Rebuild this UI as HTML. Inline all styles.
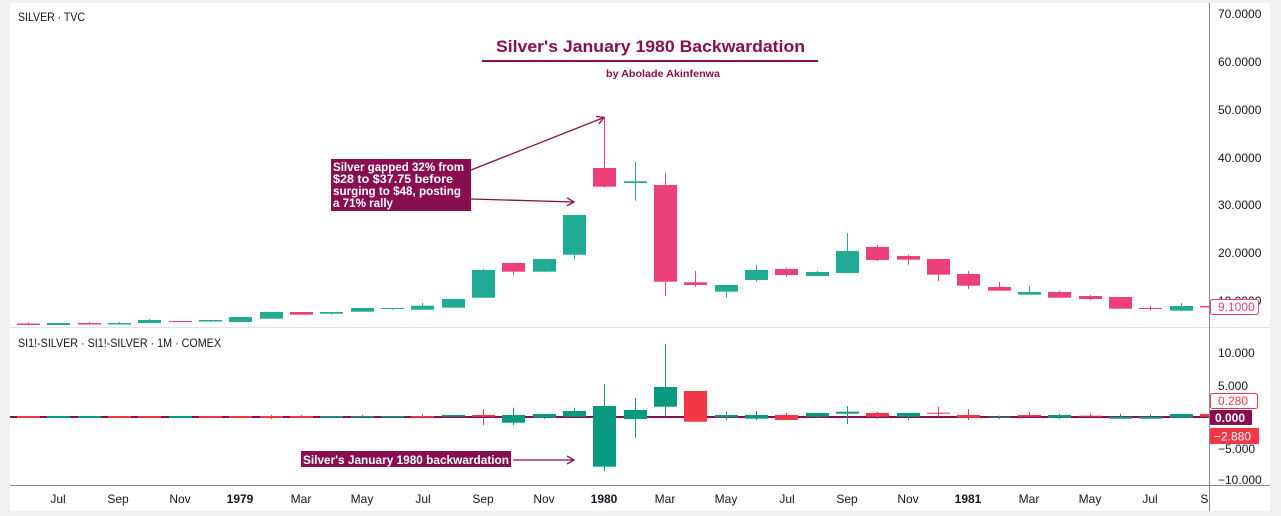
<!DOCTYPE html>
<html><head><meta charset="utf-8"><style>
html,body{margin:0;padding:0;background:#f0f0f0;}
svg{display:block;}
text{font-family:"Liberation Sans",sans-serif;}
</style></head><body>
<svg width="1281" height="516" viewBox="0 0 1281 516" xmlns="http://www.w3.org/2000/svg">
<defs>
<clipPath id="cu"><rect x="10" y="3" width="1199" height="324"/></clipPath>
<clipPath id="cl"><rect x="10" y="328" width="1199" height="157"/></clipPath>
<clipPath id="cx"><rect x="10" y="486" width="1199" height="25"/></clipPath>
<marker id="ah" markerWidth="10" markerHeight="10" refX="8" refY="5" orient="auto" markerUnits="userSpaceOnUse">
<path d="M1,1 L8,5 L1,9" fill="none" stroke="#880e4f" stroke-width="1.3"/>
</marker>
</defs>
<rect x="0" y="0" width="1281" height="516" fill="#f0f0f0"/>
<rect x="10" y="3" width="1260" height="508" fill="#ffffff"/>

<!-- separators -->
<rect x="10" y="327" width="1260" height="1" fill="#e0e3eb"/>
<rect x="10" y="485" width="1260" height="1" fill="#8c8c8c"/>
<rect x="1209" y="3" width="1" height="508" fill="#8c8c8c"/>

<!-- upper candles -->
<g clip-path="url(#cu)">
<g fill="#22ab94">
<rect x="47" y="323" width="23" height="2"/>
<rect x="108" y="323" width="23" height="1.5"/><rect x="119" y="322" width="1" height="2.5"/>
<rect x="138" y="320" width="23" height="3"/><rect x="149" y="319" width="1" height="4"/>
<rect x="199" y="320" width="23" height="1.5"/><rect x="210" y="320" width="1" height="2"/>
<rect x="229" y="317" width="23" height="5"/>
<rect x="260" y="312" width="23" height="6.7"/>
<rect x="320" y="312" width="23" height="1.7"/><rect x="331" y="312" width="1" height="2.7"/>
<rect x="351" y="308" width="23" height="3.7"/>
<rect x="381" y="308" width="23" height="1"/><rect x="392" y="308" width="1" height="1.7"/>
<rect x="411" y="305.7" width="23" height="4"/><rect x="422" y="303" width="1" height="6.7"/>
<rect x="442" y="299" width="23" height="8.7"/>
<rect x="472" y="270" width="23" height="27.7"/><rect x="483" y="269" width="1" height="28.7"/>
<rect x="533" y="259" width="23" height="12.7"/><rect x="544" y="259" width="1" height="13"/>
<rect x="563" y="215" width="23" height="39.7"/><rect x="574" y="215" width="1" height="44"/>
<rect x="624" y="181.3" width="23" height="1.7"/><rect x="635" y="162" width="1" height="38.7"/>
<rect x="715" y="285" width="23" height="6.7"/><rect x="726" y="285" width="1" height="12.7"/>
<rect x="745" y="270" width="23" height="10"/><rect x="756" y="265" width="1" height="16.7"/>
<rect x="806" y="272" width="23" height="4"/><rect x="817" y="271" width="1" height="5"/>
<rect x="836" y="251" width="23" height="22"/><rect x="847" y="233" width="1" height="40"/>
<rect x="1018" y="292" width="23" height="2.7"/><rect x="1029" y="286" width="1" height="8.7"/>
<rect x="1170" y="306" width="23" height="4.7"/><rect x="1181" y="303" width="1" height="7.7"/>
</g>
<g fill="#ec407a">
<rect x="17" y="323.5" width="23" height="1.5"/><rect x="28" y="322.5" width="1" height="2.5"/>
<rect x="78" y="323" width="23" height="1.5"/><rect x="89" y="322" width="1" height="2.5"/>
<rect x="169" y="321" width="23" height="1"/>
<rect x="290" y="312" width="23" height="2.7"/>
<rect x="502" y="263" width="23" height="8.7"/><rect x="513" y="263" width="1" height="12"/>
<rect x="593" y="168" width="23" height="18.7"/><rect x="604" y="117" width="1" height="70.7"/>
<rect x="654" y="185" width="23" height="96.7"/><rect x="665" y="173" width="1" height="123"/>
<rect x="684" y="282.3" width="23" height="2.7"/><rect x="695" y="271" width="1" height="15.7"/>
<rect x="775" y="269" width="23" height="6"/><rect x="786" y="267.7" width="1" height="9"/>
<rect x="866" y="247" width="23" height="13"/><rect x="877" y="245" width="1" height="16"/>
<rect x="897" y="256" width="23" height="3.7"/><rect x="908" y="254.7" width="1" height="10"/>
<rect x="927" y="259" width="23" height="15.7"/><rect x="938" y="259" width="1" height="22"/>
<rect x="957" y="274" width="23" height="11.7"/><rect x="968" y="271" width="1" height="18"/>
<rect x="988" y="287" width="23" height="3.7"/><rect x="999" y="282" width="1" height="8.7"/>
<rect x="1048" y="292" width="23" height="5.7"/><rect x="1059" y="290.7" width="1" height="7"/>
<rect x="1079" y="296" width="23" height="3"/><rect x="1090" y="295" width="1" height="5"/>
<rect x="1109" y="297" width="23" height="11.7"/>
<rect x="1139" y="308" width="23" height="1"/><rect x="1150" y="306" width="1" height="4"/>
<rect x="1200" y="306" width="23" height="1.5"/>
</g>
</g>

<!-- lower pane -->
<g clip-path="url(#cl)">
<rect x="10" y="416" width="1199" height="2" fill="#880e4f"/>
<g fill="#089981">
<rect x="47" y="416" width="23" height="2"/>
<rect x="78" y="416" width="23" height="2"/>
<rect x="169" y="416" width="23" height="2"/>
<rect x="320" y="416" width="23" height="1.7"/>
<rect x="351" y="416" width="23" height="1.5"/><rect x="362" y="415" width="1" height="3"/>
<rect x="381" y="416" width="23" height="1.5"/>
<rect x="442" y="415" width="23" height="1.7"/>
<rect x="502" y="415" width="23" height="7.7"/><rect x="513" y="407.7" width="1" height="17.3"/>
<rect x="533" y="414" width="23" height="3.7"/><rect x="544" y="414" width="1" height="5"/>
<rect x="563" y="411" width="23" height="5.7"/><rect x="574" y="407.7" width="1" height="9"/>
<rect x="593" y="406" width="23" height="60.7"/><rect x="604" y="384" width="1" height="87"/>
<rect x="624" y="410" width="23" height="9"/><rect x="635" y="398" width="1" height="39.7"/>
<rect x="654" y="387" width="23" height="19.7"/><rect x="665" y="344" width="1" height="72.7"/>
<rect x="715" y="415" width="23" height="2.3"/><rect x="726" y="411.7" width="1" height="8.3"/>
<rect x="745" y="415" width="23" height="3.7"/><rect x="756" y="411" width="1" height="9"/>
<rect x="806" y="413" width="23" height="3.7"/><rect x="817" y="413" width="1" height="5"/>
<rect x="836" y="411.7" width="23" height="2"/><rect x="847" y="406" width="1" height="18"/>
<rect x="897" y="413" width="23" height="3.7"/><rect x="908" y="413" width="1" height="7"/>
<rect x="988" y="416.7" width="23" height="1"/><rect x="999" y="415.7" width="1" height="3.3"/>
<rect x="1048" y="415" width="23" height="2.7"/><rect x="1059" y="413.7" width="1" height="5.3"/>
<rect x="1109" y="416.7" width="23" height="2"/><rect x="1120" y="413.7" width="1" height="5"/>
<rect x="1139" y="416.7" width="23" height="2"/><rect x="1150" y="414" width="1" height="4.7"/>
<rect x="1170" y="414" width="23" height="3.7"/>
</g>
<g fill="#f23645">
<rect x="17" y="416" width="23" height="2"/>
<rect x="108" y="416" width="23" height="2"/>
<rect x="138" y="416" width="23" height="2"/>
<rect x="199" y="416" width="23" height="2"/>
<rect x="229" y="416" width="23" height="2"/>
<rect x="260" y="416" width="23" height="2"/><rect x="271" y="415" width="1" height="4"/>
<rect x="290" y="416" width="23" height="2"/><rect x="301" y="415" width="1" height="3"/>
<rect x="411" y="416" width="23" height="1.7"/><rect x="422" y="414" width="1" height="4.7"/>
<rect x="472" y="415" width="23" height="1.7"/><rect x="483" y="409" width="1" height="16"/>
<rect x="684" y="391" width="23" height="30.7"/>
<rect x="775" y="415" width="23" height="5"/><rect x="786" y="413" width="1" height="7"/>
<rect x="866" y="413" width="23" height="3.7"/><rect x="877" y="412" width="1" height="6.7"/>
<rect x="927" y="412.7" width="23" height="1"/><rect x="938" y="407" width="1" height="9.7"/>
<rect x="957" y="415" width="23" height="2.7"/><rect x="968" y="409" width="1" height="11"/>
<rect x="1018" y="415" width="23" height="1.7"/><rect x="1029" y="412" width="1" height="5.7"/>
<rect x="1079" y="415.7" width="23" height="1"/><rect x="1090" y="413.7" width="1" height="3"/>
<rect x="1200" y="414" width="23" height="2.7"/>
</g>
</g>

<!-- legends -->
<text x="18" y="21" font-size="12" fill="#131722" textLength="67" lengthAdjust="spacingAndGlyphs">SILVER · TVC</text>
<text x="18" y="347" font-size="12" fill="#131722" textLength="203" lengthAdjust="spacingAndGlyphs">SI1!-SILVER · SI1!-SILVER · 1M · COMEX</text>

<!-- title -->
<text x="650.5" y="52" font-size="17" font-weight="bold" fill="#880e4f" text-anchor="middle" textLength="309" lengthAdjust="spacingAndGlyphs">Silver's January 1980 Backwardation</text>
<rect x="482" y="60" width="336" height="2" fill="#880e4f"/>
<text x="663" y="77" font-size="10.5" font-weight="bold" fill="#880e4f" text-anchor="middle" textLength="114" lengthAdjust="spacingAndGlyphs">by Abolade Akinfenwa</text>

<!-- annotation 1 -->
<rect x="331" y="159" width="140" height="52" fill="#880e4f"/>
<g font-size="12" font-weight="bold" fill="#ffffff">
<text x="333" y="171" textLength="131" lengthAdjust="spacingAndGlyphs">Silver gapped 32% from</text>
<text x="333" y="183" textLength="120" lengthAdjust="spacingAndGlyphs">$28 to $37.75 before</text>
<text x="333" y="195" textLength="128" lengthAdjust="spacingAndGlyphs">surging to $48, posting</text>
<text x="333" y="207" textLength="60" lengthAdjust="spacingAndGlyphs">a 71% rally</text>
</g>
<line x1="471" y1="170" x2="604" y2="117.5" stroke="#880e4f" stroke-width="1.3" marker-end="url(#ah)"/>
<line x1="471" y1="199" x2="574" y2="202" stroke="#880e4f" stroke-width="1.3" marker-end="url(#ah)"/>

<!-- annotation 2 -->
<rect x="301" y="451" width="210" height="16" fill="#880e4f"/>
<text x="303" y="464" font-size="12" font-weight="bold" fill="#ffffff" textLength="206" lengthAdjust="spacingAndGlyphs">Silver's January 1980 backwardation</text>
<line x1="513" y1="460" x2="574" y2="460" stroke="#880e4f" stroke-width="1.3" marker-end="url(#ah)"/>

<!-- right axis upper -->
<g font-size="12" fill="#131722">
<text x="1218" y="18">70.0000</text>
<text x="1218" y="66">60.0000</text>
<text x="1218" y="114">50.0000</text>
<text x="1218" y="162">40.0000</text>
<text x="1218" y="209">30.0000</text>
<text x="1218" y="257">20.0000</text>
<text x="1218" y="305">10.0000</text>
<text x="1218" y="357">10.000</text>
<text x="1218" y="390">5.000</text>
<text x="1218" y="453">−5.000</text>
<text x="1218" y="484">−10.000</text>
</g>
<rect x="1210.5" y="299.5" width="48" height="15" rx="2" fill="#ffffff" stroke="#ec407a" stroke-width="1"/>
<text x="1218" y="311" font-size="12" fill="#ec407a">9.1000</text>

<rect x="1210.5" y="393.5" width="47" height="15" rx="2" fill="#ffffff" stroke="#f23645" stroke-width="1"/>
<text x="1218" y="405" font-size="12" fill="#f23645">0.280</text>
<rect x="1210" y="410" width="42" height="15" rx="1" fill="#880e4f"/>
<text x="1215" y="422" font-size="12" font-weight="bold" fill="#ffffff">0.000</text>
<rect x="1210" y="428" width="49" height="16" rx="1" fill="#f23645"/>
<text x="1214" y="440.5" font-size="12" fill="#ffffff">−2.880</text>

<!-- x axis labels -->
<g clip-path="url(#cx)" font-size="12" fill="#131722" text-anchor="middle">
<text x="58" y="503">Jul</text>
<text x="118" y="503">Sep</text>
<text x="180" y="503">Nov</text>
<text x="240" y="503" font-weight="bold">1979</text>
<text x="301" y="503">Mar</text>
<text x="362" y="503">May</text>
<text x="423" y="503">Jul</text>
<text x="483" y="503">Sep</text>
<text x="544" y="503">Nov</text>
<text x="604" y="503" font-weight="bold">1980</text>
<text x="665" y="503">Mar</text>
<text x="726" y="503">May</text>
<text x="787" y="503">Jul</text>
<text x="847" y="503">Sep</text>
<text x="908" y="503">Nov</text>
<text x="968" y="503" font-weight="bold">1981</text>
<text x="1029" y="503">Mar</text>
<text x="1090" y="503">May</text>
<text x="1150" y="503">Jul</text>
<text x="1211" y="503">Sep</text>
</g>
</svg>
</body></html>
